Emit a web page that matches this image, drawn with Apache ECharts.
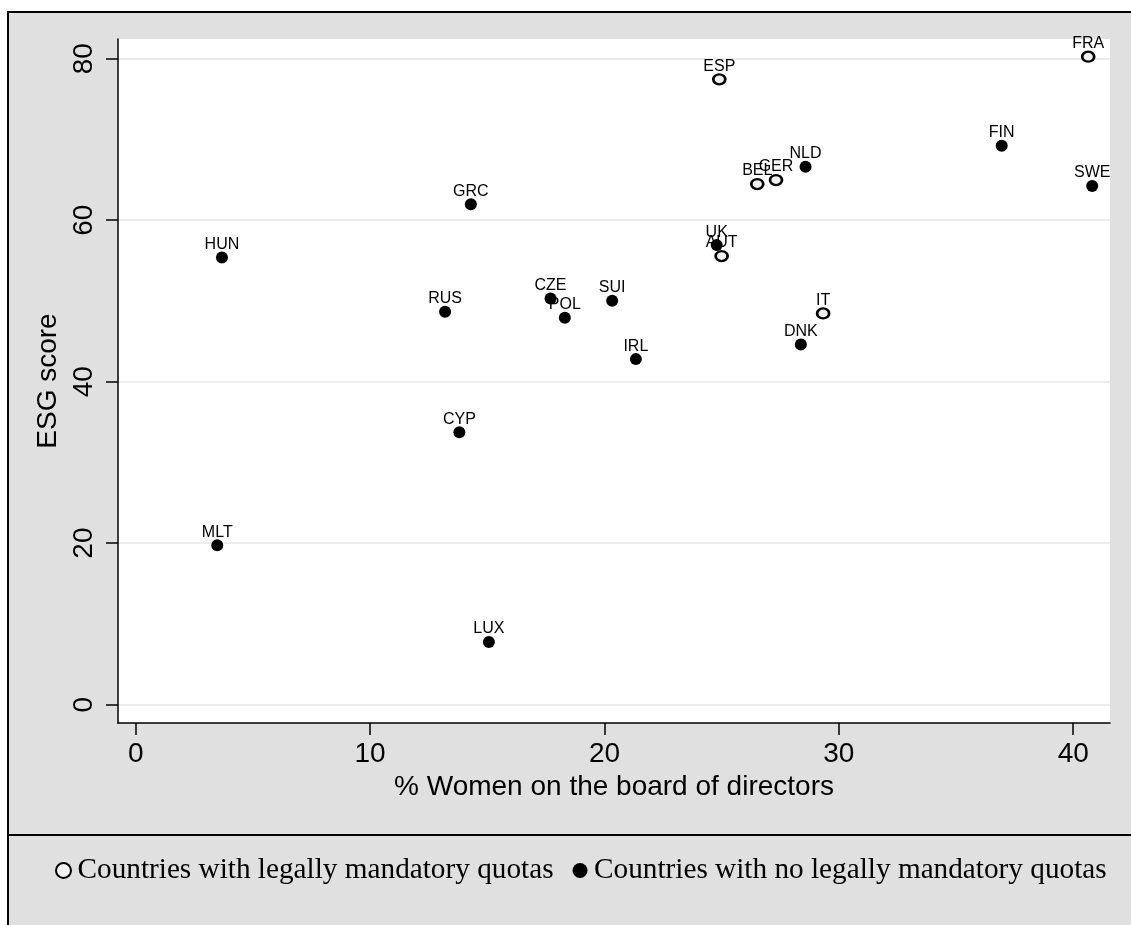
<!DOCTYPE html>
<html>
<head>
<meta charset="utf-8">
<title>ESG score vs women on boards</title>
<script src="https://cdn.jsdelivr.net/npm/echarts@6/dist/echarts.min.js"></script>
<style>
  html, body { margin: 0; padding: 0; background: #fff; }
  #main { width: 1131px; height: 925px; }
</style>
</head>
<body>
<div id="main"></div>
<script>
// countries with legally mandatory quotas (hollow markers)
var quotaNames = ['FRA', 'ESP', 'BEL', 'GER', 'AUT', 'IT']
var quotaWomen = [40.64, 24.90, 26.52, 27.32, 25.00, 29.33]
var quotaEsg = [80.25, 77.45, 64.47, 64.97, 55.55, 48.45]

// countries with no legally mandatory quotas (filled markers)
var noQuotaNames = ['FIN', 'NLD', 'SWE', 'UK', 'GRC', 'HUN', 'RUS', 'CZE', 'POL', 'SUI', 'IRL', 'DNK', 'CYP', 'MLT', 'LUX']
var noQuotaWomen = [36.95, 28.58, 40.81, 24.79, 14.30, 3.68, 13.20, 17.70, 18.31, 20.33, 21.34, 28.38, 13.81, 3.48, 15.07]
var noQuotaEsg = [69.22, 66.62, 64.23, 56.91, 61.96, 55.39, 48.65, 50.31, 47.91, 50.01, 42.79, 44.61, 33.74, 19.74, 7.76]

// axis ticks
var xTicks = [0, 10, 20, 30, 40]
var yTicks = [0, 20, 40, 60, 80]

var legendNames = ['Countries with legally mandatory quotas', 'Countries with no legally mandatory quotas']

function toPoints(names, xs, ys) {
    return names.map(function (n, i) {
        return { name: n, value: [xs[i], ys[i]] }
    })
}

var myChart = echarts.init(document.getElementById('main'))

var pointLabel = {
    show: true,
    position: 'top',
    distance: -1,
    formatter: '{b}',
    color: '#000',
    fontFamily: 'Liberation Sans',
    fontSize: 16
}

var option = {
    backgroundColor: '#fff',
    animation: false,
    graphic: {
        elements: [
            // grey graph region with frame
            {
                type: 'rect',
                z: -100,
                shape: { x: 8, y: 12, width: 1140, height: 930 },
                style: { fill: '#e0e0e0', stroke: '#000', lineWidth: 2 },
                silent: true
            },
            // separator above the legend
            {
                type: 'line',
                z: -90,
                shape: { x1: 8, y1: 835, x2: 1131, y2: 835 },
                style: { stroke: '#000', lineWidth: 2 },
                silent: true
            }
        ]
    },
    grid: {
        left: 118,
        right: 21,
        top: 39,
        bottom: 202,
        show: true,
        backgroundColor: '#fff',
        borderWidth: 0
    },
    legend: {
        left: 50,
        top: 851,
        itemWidth: 18,
        itemHeight: 15,
        itemGap: 19,
        textStyle: {
            fontFamily: 'Liberation Serif',
            fontSize: 29.25,
            color: '#000'
        },
        data: [
            {
                name: legendNames[0],
                icon: 'circle',
                itemStyle: { color: '#f2f2f2', borderColor: '#000', borderWidth: 2 }
            },
            {
                name: legendNames[1],
                icon: 'circle',
                itemStyle: { color: '#000', borderWidth: 0 }
            }
        ]
    },
    xAxis: {
        type: 'value',
        min: -0.755,
        max: 41.57,
        name: '% Women on the board of directors',
        nameLocation: 'middle',
        nameGap: 48,
        nameTextStyle: { fontFamily: 'Liberation Sans', fontSize: 28, color: '#000' },
        axisLine: { show: true, onZero: false, lineStyle: { color: '#000', width: 1.5 } },
        axisTick: { show: true, length: 12, customValues: xTicks, lineStyle: { color: '#000', width: 1.5 } },
        axisLabel: { customValues: xTicks, margin: 17, fontFamily: 'Liberation Sans', fontSize: 28, color: '#000' },
        splitLine: { show: false }
    },
    yAxis: {
        type: 'value',
        min: -2.28,
        max: 82.44,
        name: 'ESG score',
        nameLocation: 'middle',
        nameGap: 52,
        nameRotate: 90,
        nameTextStyle: { fontFamily: 'Liberation Sans', fontSize: 28, color: '#000' },
        axisLine: { show: true, onZero: false, lineStyle: { color: '#000', width: 1.5 } },
        axisTick: { show: true, length: 12, customValues: yTicks, lineStyle: { color: '#000', width: 1.5 } },
        axisLabel: { customValues: yTicks, rotate: 90, margin: 20, fontFamily: 'Liberation Sans', fontSize: 28, color: '#000' },
        splitLine: { show: true, lineStyle: { color: '#ececec', width: 2 } }
    },
    series: [
        {
            name: legendNames[0],
            type: 'scatter',
            symbol: 'circle',
            symbolSize: [12, 10],
            itemStyle: { color: '#efefef', borderColor: '#000', borderWidth: 2.5, opacity: 1 },
            label: pointLabel,
            data: toPoints(quotaNames, quotaWomen, quotaEsg)
        },
        {
            name: legendNames[1],
            type: 'scatter',
            symbol: 'circle',
            symbolSize: 12,
            itemStyle: { color: '#000', opacity: 1 },
            label: pointLabel,
            data: toPoints(noQuotaNames, noQuotaWomen, noQuotaEsg)
        }
    ]
}

myChart.setOption(option)
window.addEventListener('resize', function () {
    myChart.resize()
})
</script>
</body>
</html>
